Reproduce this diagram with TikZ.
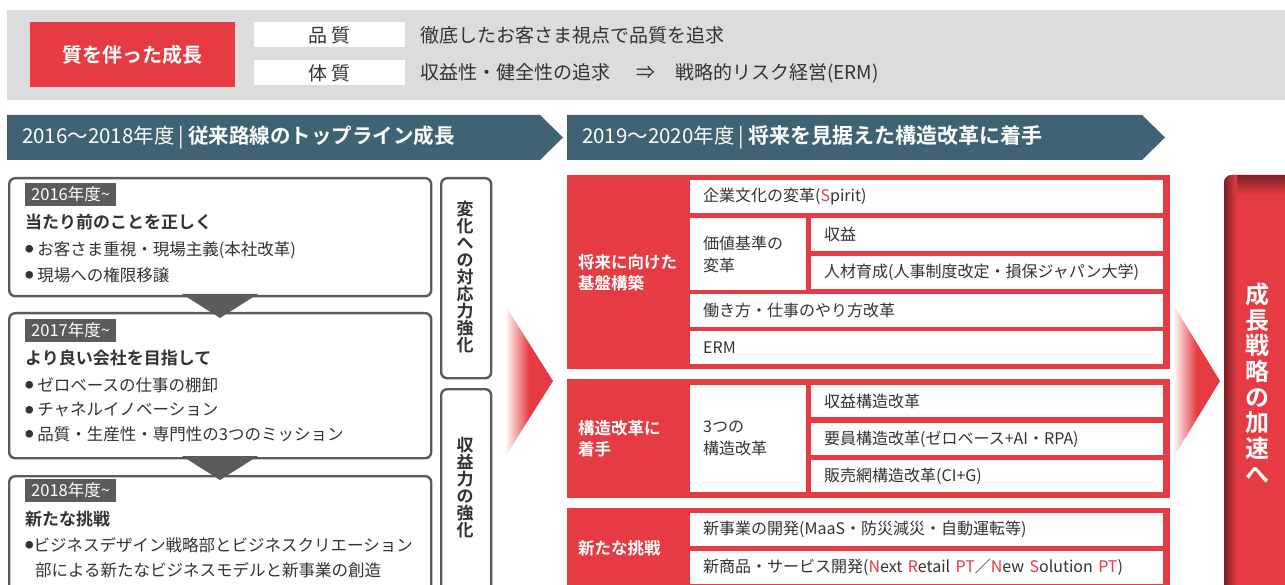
\documentclass[tikz,border=0pt]{standalone}
\usepackage{fontspec}
\setmainfont{Noto Sans CJK JP}[BoldFont={Noto Sans CJK JP Bold}]
\definecolor{redc}{HTML}{E63B43}
\definecolor{darkredc}{HTML}{7D1E22}
\definecolor{bannerc}{HTML}{3F6373}
\definecolor{bandc}{HTML}{DCDCDC}
\definecolor{boxgray}{HTML}{5B5B5B}
\definecolor{txtc}{HTML}{333333}
\newcommand{\fs}[2]{\fontsize{#1}{#2}\selectfont}
\newcommand{\rc}[1]{\textcolor{redc}{#1}}
\newcommand{\bul}{{\fs{8.5}{8.5}\raisebox{2.6pt}{●}}}
\begin{document}
\begin{tikzpicture}[x=1pt,y=-1pt,
  lbl/.style={inner sep=0pt, anchor=west, text=txtc, align=left},
  rbox/.style={draw=boxgray, line width=2.4pt, rounded corners=6pt, fill=white, anchor=north west, inner sep=0pt},
  tagbox/.style={fill=boxgray, text=white, inner xsep=6pt, inner ysep=0pt, anchor=north west, minimum height=23pt, font=\fs{16.5}{16.5}},
  redsec/.style={fill=redc, anchor=north west, inner sep=0pt, minimum width=603pt},
  cell/.style={fill=white, anchor=north west, inner xsep=13pt, inner ysep=0pt, align=left, text=txtc, font=\fs{16}{22}},
  seclbl/.style={inner sep=0pt, anchor=west, text=white, align=left, font=\bfseries\fs{16.5}{21}},
  vtext/.style={inner sep=0pt, align=center, text=txtc, font=\bfseries\fs{17}{17}},
  banner/.style={fill=bannerc},
  whitelbl/.style={fill=white, inner sep=0pt, minimum width=151pt, minimum height=25pt, text=txtc, font=\fs{19}{19}}
]
\useasboundingbox (0,0) rectangle (1285,585);
\begin{scope}
\clip (0,0) rectangle (1285,585);
% ---------- top band
\node[fill=bandc, minimum width=1278pt, minimum height=90pt, anchor=north west, inner sep=0pt] (band) at (7,10) {};
\node[fill=redc, minimum width=205pt, minimum height=65pt, inner sep=0pt, text=white, font=\bfseries\fs{20}{20}] (quality) at (132.5,54.5) {質を伴った成長};
\node[whitelbl] (hinshitsu) at (329.5,35) {品 質};
\node[whitelbl] (taishitsu) at (329.5,73) {体 質};
\node[lbl, font=\fs{19}{19}] (t1) at (420,35) {徹底したお客さま視点で品質を追求};
\node[lbl, font=\fs{19}{19}] (t2) at (420,73) {収益性・健全性の追求\hspace{26pt}⇒\hspace{20pt}戦略的リスク経営(ERM)};
% ---------- banners
\fill[banner] (7,115) -- (540,115) -- (563,137.5) -- (540,160) -- (7,160) -- cycle;
\fill[banner] (567,115) -- (1142,115) -- (1165,137.5) -- (1142,160) -- (567,160) -- cycle;
\node[inner sep=0pt, anchor=west, text=white] (b1) at (22,137.5) {\fs{20.5}{20}2016～2018年度\hspace{4pt}|\hspace{4pt}\bfseries\fs{20.5}{20}従来路線のトップライン成長};
\node[inner sep=0pt, anchor=west, text=white] (b2) at (582,137.5) {\fs{20.5}{20}2019～2020年度\hspace{4pt}|\hspace{4pt}\bfseries\fs{21}{20}将来を見据えた構造改革に着手};
% ---------- left boxes
\node[rbox, minimum width=422pt, minimum height=118pt] (box1) at (8,177) {};
\node[rbox, minimum width=422pt, minimum height=145pt] (box2) at (8,312) {};
\node[rbox, minimum width=422pt, minimum height=140pt] (box3) at (8,475) {};
\fill[boxgray] (182,294) -- (258,294) -- (220,318) -- cycle;
\fill[boxgray] (182,456) -- (258,456) -- (220,480) -- cycle;
\node[tagbox] (tag1) at (25,183) {2016年度\textasciitilde};
\node[tagbox] (tag2) at (25,319) {2017年度\textasciitilde};
\node[tagbox] (tag3) at (25,479) {2018年度\textasciitilde};
\node[lbl, font=\bfseries\fs{17}{17}] (h1) at (25,222) {当たり前のことを正しく};
\node[lbl, font=\fs{16.5}{16.5}] (b11) at (25,250) {\bul\ お客さま重視・現場主義(本社改革)};
\node[lbl, font=\fs{16.5}{16.5}] (b12) at (25,275) {\bul\ 現場への権限移譲};
\node[lbl, font=\bfseries\fs{17}{17}] (h2) at (25,358) {より良い会社を目指して};
\node[lbl, font=\fs{16.5}{16.5}] (b21) at (25,385) {\bul\ ゼロベースの仕事の棚卸};
\node[lbl, font=\fs{16.5}{16.5}] (b22) at (25,410) {\bul\ チャネルイノベーション};
\node[lbl, font=\fs{16.5}{16.5}] (b23) at (25,434) {\bul\ 品質・生産性・専門性の3つのミッション};
\node[lbl, font=\bfseries\fs{17}{17}] (h3) at (25,519) {新たな挑戦};
\node[lbl, font=\fs{16.5}{25}, anchor=north west] (b31) at (25,537) {\bul ビジネスデザイン戦略部とビジネスクリエーション\\\hspace*{10pt}部による新たなビジネスモデルと新事業の創造};
% ---------- side columns
\node[rbox, minimum width=50pt, minimum height=200pt] (col1) at (440,177) {};
\node[rbox, minimum width=50pt, minimum height=220pt] (col2) at (440,388) {};
\node[vtext] (col1t) at (465,277) {変\\化\\へ\\の\\対\\応\\力\\強\\化};
\node[vtext] (col2t) at (465,487.5) {収\\益\\力\\の\\強\\化};
% ---------- gradient arrows
\shade[left color=white, right color=redc, middle color=redc] (505,305) -- (553,381) -- (505,457) -- cycle;
\shade[left color=white, right color=redc, middle color=redc] (1173,304) -- (1220,381) -- (1173,458) -- cycle;
% ---------- middle red panel
\node[redsec, minimum height=194pt] (sec1) at (567,175) {};
\node[redsec, minimum height=119pt] (sec2) at (567,379) {};
\node[redsec, minimum height=90pt] (sec3) at (567,508) {};
\node[seclbl] (s1l) at (578,273) {将来に向けた\\基盤構築};
\node[seclbl] (s2l) at (578,438.5) {構造改革に\\着手};
\node[seclbl] (s3l) at (578,548) {新たな挑戦};
\node[cell, minimum width=473pt, minimum height=33pt, text width=447pt] (c1) at (690,180) {企業文化の変革(\rc{S}pirit)};
\node[cell, minimum width=116pt, minimum height=72pt, text width=90pt] (c2) at (690,218) {価値基準の\\変革};
\node[cell, minimum width=352pt, minimum height=33pt, text width=326pt] (c3) at (811,218) {収益};
\node[cell, minimum width=352pt, minimum height=33pt, text width=326pt] (c4) at (811,256) {人材育成(人事制度改定・損保ジャパン大学)};
\node[cell, minimum width=473pt, minimum height=33pt, text width=447pt] (c5) at (690,294) {働き方・仕事のやり方改革};
\node[cell, minimum width=473pt, minimum height=33pt, text width=447pt] (c6) at (690,331) {ERM};
\node[cell, minimum width=116pt, minimum height=107pt, text width=90pt] (c7) at (690,385) {3つの\\構造改革};
\node[cell, minimum width=352pt, minimum height=32pt, text width=326pt] (c8) at (811,385) {収益構造改革};
\node[cell, minimum width=352pt, minimum height=32pt, text width=326pt] (c9) at (811,423) {要員構造改革(ゼロベース+AI・RPA)};
\node[cell, minimum width=352pt, minimum height=32pt, text width=326pt] (c10) at (811,460) {販売網構造改革(CI+G)};
\node[cell, minimum width=473pt, minimum height=33pt, text width=447pt] (c11) at (690,513) {新事業の開発(MaaS・防災減災・自動運転等)};
\node[cell, minimum width=473pt, minimum height=33pt, text width=447pt] (c12) at (690,551) {新商品・サービス開発(\rc{N}ext \rc{R}etail \rc{PT}／\rc{N}ew \rc{S}olution \rc{PT})};
% ---------- right red box
\begin{scope}
\clip[rounded corners=8pt] (1224,175) rectangle (1300,620);
\fill[redc] (1224,175) rectangle (1300,620);
\shade[top color=darkredc, bottom color=redc] (1224,175) rectangle (1300,195);
\shade[left color=darkredc, right color=redc] (1224,175) rectangle (1237,620);
\end{scope}
\node[inner sep=0pt, align=center, text=white, font=\bfseries\fs{24}{25.7}] (growth) at (1257,383) {成\\長\\戦\\略\\の\\加\\速\\へ};
\end{scope}
\end{tikzpicture}
\end{document}
